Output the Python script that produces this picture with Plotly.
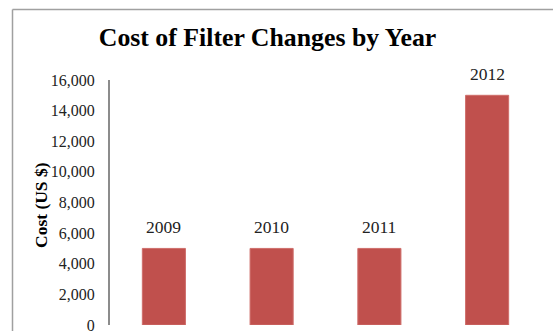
import plotly.graph_objects as go

years = ["2009", "2010", "2011", "2012"]
costs = [5000, 5000, 5000, 15000]
y_ticks = [0, 2000, 4000, 6000, 8000, 10000, 12000, 14000, 16000]
y_tick_labels = ["0", "2,000", "4,000", "6,000", "8,000", "10,000", "12,000", "14,000", "16,000"]

W, H = 553, 331
ML, MR, MT, MB = 110, 12, 80, 6
PW, PH = W - ML - MR, H - MT - MB

fig = go.Figure()
fig.add_trace(go.Bar(
    x=years, y=costs,
    marker=dict(color="#C0504D", line=dict(color="#CF6E6B", width=1)),
    width=0.4,
    hoverinfo="skip",
))

for i, (yr, c) in enumerate(zip(years, costs)):
    fig.add_annotation(
        x=i, y=c, text=yr, showarrow=False,
        xref="x", yref="y", yanchor="bottom", yshift=9,
        font=dict(family="Liberation Serif", size=17.5, color="#222222"),
    )

fig.add_annotation(
    x=(41 - ML) / PW, y=(H - MB - 205) / PH, xref="paper", yref="paper",
    text="<b>Cost (US $)</b>", textangle=-90, showarrow=False,
    font=dict(family="Liberation Serif", size=17.5, color="#000000"),
    xanchor="center", yanchor="middle",
)

# outer chart frame (left and top edges visible)
fig.add_shape(type="line", xref="paper", yref="paper",
              x0=(12.5 - ML) / PW, x1=(12.5 - ML) / PW,
              y0=(H - MB - 9.5) / PH, y1=-0.1,
              line=dict(color="#A0A0A0", width=1.5), layer="below")
fig.add_shape(type="line", xref="paper", yref="paper",
              x0=(12.5 - ML) / PW, x1=1.2,
              y0=(H - MB - 9.5) / PH, y1=(H - MB - 9.5) / PH,
              line=dict(color="#A0A0A0", width=1.5), layer="below")

fig.update_layout(
    width=W, height=H,
    margin=dict(l=ML, r=MR, t=MT, b=MB, autoexpand=False),
    paper_bgcolor="white", plot_bgcolor="white",
    showlegend=False,
    title=dict(
        text="<b>Cost of Filter Changes by Year</b>",
        x=267.5 / W, xanchor="center",
        y=1 - 36.5 / H, yanchor="middle",
        font=dict(family="Liberation Serif", size=25.8, color="#000000"),
    ),
    xaxis=dict(
        type="category", range=[-0.5, 3.5], showticklabels=False, showline=False,
        showgrid=False, zeroline=False, ticks="",
    ),
    yaxis=dict(
        range=[-1, 16000], tickvals=y_ticks, ticktext=y_tick_labels,
        showline=True, linecolor="#8C8C8C", linewidth=2,
        showgrid=False, zeroline=False, ticks="",
        ticklabelstandoff=10, ticklabeloverflow="allow",
        tickfont=dict(family="Liberation Serif", size=16, color="#222222"),
    ),
)

fig.write_html("out.html")
